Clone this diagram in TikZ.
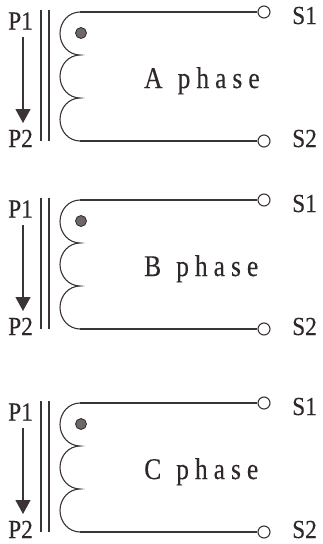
\documentclass[tikz,border=0pt]{standalone}
\usepackage{fontspec}
\setmainfont{Liberation Serif}
\newfontfamily\labelfont[FakeStretch=0.9,FakeBold=0.3]{Liberation Serif}
\newfontfamily\phasefont[FakeStretch=0.85,LetterSpace=20,FakeBold=0.3]{Liberation Serif}
\usetikzlibrary{arrows.meta}
\definecolor{ink}{HTML}{3A3434}
\definecolor{txt}{HTML}{2E2828}
\definecolor{dotgray}{HTML}{6E6766}
\tikzset{
  wire/.style={draw=ink, line width=1.1pt},
  core/.style={draw=ink, line width=1.3pt},
  lbl/.style={text=txt, font=\labelfont\fontsize{26}{26}\selectfont, inner sep=0pt, anchor=base west},
  phaselbl/.style={text=txt, font=\phasefont\fontsize{30}{30}\selectfont, inner sep=0pt, anchor=base west},
  term/.style={circle, draw=ink, fill=white, line width=1.1pt, minimum size=12pt, inner sep=0pt},
  polarity/.style={circle, draw=ink!80!black, fill=dotgray, line width=0.8pt, minimum size=11pt, inner sep=0pt},
  flow/.style={draw=ink, line width=1.1pt, -{Triangle[length=14pt,width=15pt]}}
}
\begin{document}
\begin{tikzpicture}[x=1pt,y=-1pt]
\useasboundingbox (0,0) rectangle (323,544);
\foreach \T/\ph in {12/A,200/B,403/C}{
  % labels
  \node[lbl] (p1\ph) at (8,\T+17.5) {P1};
  \node[lbl] (p2\ph) at (8,\T+135) {P2};
  \coordinate (as\ph) at (23,\T+25);
  \coordinate (ae\ph) at (23,\T+111);
  \draw[flow] (as\ph) -- (ae\ph);
  % core
  \draw[core] (41,\T-2) -- (41,\T+129);
  \draw[core] (49,\T-2) -- (49,\T+129);
  % coil
  \coordinate (ct\ph) at (80,\T);
  \coordinate (cb\ph) at (80,\T+129);
  \draw[wire] (ct\ph) arc[start angle=270, end angle=90, x radius=20, y radius=21.5]
                      arc[start angle=270, end angle=90, x radius=20, y radius=21.5]
                      arc[start angle=270, end angle=90, x radius=20, y radius=21.5];
  \node[polarity] (dot\ph) at (81,\T+21) {};
  % terminals
  \node[term] (t1\ph) at (264,\T) {};
  \node[term] (t2\ph) at (264,\T+129) {};
  \draw[wire] (ct\ph) -- (t1\ph);
  \draw[wire] (cb\ph) -- (t2\ph);
  \node[lbl] (s1\ph) at (292,\T+12) {S1};
  \node[lbl] (s2\ph) at (292,\T+135) {S2};
  \node[phaselbl] (ph\ph) at (144,\T+76) {\ph\hspace{15pt}phase};
}
\end{tikzpicture}
\end{document}
